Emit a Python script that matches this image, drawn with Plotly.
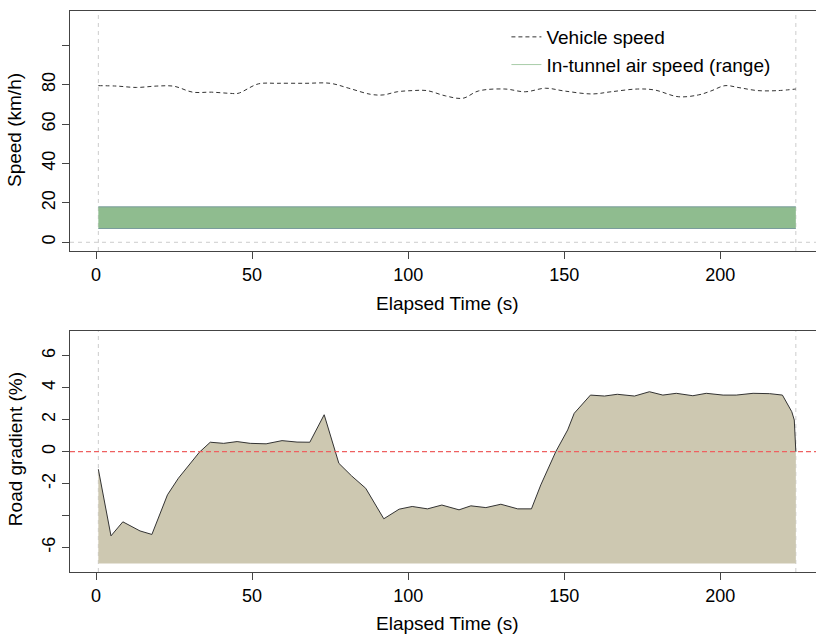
import plotly.graph_objects as go
from plotly.subplots import make_subplots

# ---- data -------------------------------------------------------------
t_start, t_end = 0.75, 224.2

speed_t = [0.75, 6.5, 13, 19.5, 25, 31, 37, 43, 45.5, 52, 58, 67, 75, 81, 88, 92,
           96.5, 101.5, 106, 112, 117.5, 122.5, 131, 137.5, 144, 150, 159, 165,
           173.5, 179, 186.5, 193, 197, 201.5, 206, 212, 218.5, 224.2]
speed_v = [79.5, 79.3, 78.6, 79.3, 79.2, 76.2, 76.2, 75.6, 75.6, 80.4, 80.7, 80.7,
           80.7, 78.2, 75.1, 74.8, 76.4, 77.0, 77.0, 74.3, 73.1, 76.8, 77.8, 76.4,
           78.2, 76.8, 75.3, 76.4, 77.8, 77.3, 73.9, 74.8, 76.8, 79.5, 78.5, 77.0,
           77.0, 77.8]

air_t = [t_start, t_end]
air_low = [7, 7]
air_high = [18, 18]

grad_t = [0.75, 4.8, 8.6, 14.1, 17.9, 20.5, 22.9, 26.4, 30.2, 33.1, 36.6, 40.9,
          45.2, 49.4, 54.5, 59.6, 64.4, 68.5, 73.1, 76.5, 77.8, 81.9, 86.4, 92.2,
          97.1, 101.3, 106.2, 110.8, 116.3, 120.1, 124.9, 129.7, 135.1, 139.5,
          142.5, 147.3, 151.1, 153.2, 158.4, 162.9, 167.0, 172.5, 177.3, 181.6,
          185.9, 191.2, 195.5, 200.9, 205.1, 210.5, 215.8, 219.9, 222.9, 223.7,
          224.2]
grad_v = [-1.1, -5.27, -4.39, -4.96, -5.18, -3.85, -2.7, -1.66, -0.73, -0.04, 0.59,
          0.52, 0.63, 0.52, 0.49, 0.69, 0.6, 0.59, 2.31, 0.0, -0.73, -1.52, -2.29,
          -4.2, -3.6, -3.43, -3.58, -3.34, -3.64, -3.39, -3.5, -3.29, -3.58, -3.58,
          -2.08, 0.0, 1.36, 2.4, 3.54, 3.48, 3.59, 3.48, 3.75, 3.54, 3.65, 3.5,
          3.65, 3.54, 3.54, 3.65, 3.63, 3.54, 2.5, 1.98, 0.0]
grad_base = -7

x_ticks = [0, 50, 100, 150, 200]
speed_ticks = [0, 20, 40, 60, 80, 100]
speed_ticktext = ["0", "20", "40", "60", "80", ""]
grad_ticks = [-6, -4, -2, 0, 2, 4, 6]
grad_ticktext = ["-6", "", "-2", "0", "2", "4", "6"]

# ---- styling ----------------------------------------------------------
FONT = "Liberation Sans, Arial, sans-serif"
AXIS_COL = "#444444"
GRID_COL = "#cccccc"

fig = make_subplots(rows=2, cols=1)

# vehicle speed
fig.add_trace(go.Scatter(x=speed_t, y=speed_v, mode="lines", name="Vehicle speed",
                         line=dict(color="#333333", width=1, dash="4px,3px",
                                   shape="spline", smoothing=1)),
              row=1, col=1)
# legend entry for the band
fig.add_trace(go.Scatter(x=[None], y=[None], mode="lines",
                         name="In-tunnel air speed (range)",
                         line=dict(color="#a8cca8", width=1)), row=1, col=1)

# air-speed band
fig.add_trace(go.Scatter(x=air_t, y=air_low, mode="lines",
                         line=dict(color="#7a9c9c", width=1),
                         showlegend=False, hoverinfo="skip"), row=1, col=1)
fig.add_trace(go.Scatter(x=air_t, y=air_high, mode="lines", fill="tonexty",
                         fillcolor="#8FBC8F",
                         line=dict(color="#7a9c9c", width=1),
                         showlegend=False, hoverinfo="skip"), row=1, col=1)

# road gradient profile
fig.add_trace(go.Scatter(x=[t_start, t_end], y=[grad_base, grad_base], mode="lines",
                         line=dict(width=0), showlegend=False, hoverinfo="skip"),
              row=2, col=1)
fig.add_trace(go.Scatter(x=grad_t, y=grad_v, mode="lines", fill="tonexty",
                         fillcolor="#CDC8B1", line=dict(color="#333333", width=1),
                         showlegend=False), row=2, col=1)

# reference lines
for xr, yr in (("x", "y"), ("x2", "y2")):
    for tv in (t_start, t_end):
        fig.add_shape(type="line", xref=xr, yref=f"{yr} domain", x0=tv, x1=tv,
                      y0=0, y1=1, layer="below",
                      line=dict(color=GRID_COL, width=1, dash="4px,4px"))
fig.add_shape(type="line", xref="x domain", yref="y", x0=0, x1=1, y0=0, y1=0,
              layer="below", line=dict(color=GRID_COL, width=1, dash="4px,4px"))
fig.add_shape(type="line", xref="x2 domain", yref="y2", x0=0, x1=1, y0=0, y1=0,
              layer="above",
              line=dict(color="rgb(238,96,96)", width=1.2, dash="5px,3px"))

xaxis_common = dict(range=[-8.33, 230.66], tickvals=x_ticks, ticks="outside",
                    ticklen=7, tickcolor=AXIS_COL, showline=True, mirror=True,
                    linecolor=AXIS_COL, linewidth=1, showgrid=False, zeroline=False,
                    tickfont=dict(size=18, color="black", family=FONT))
yaxis_common = dict(ticks="outside", ticklen=7, tickcolor=AXIS_COL, showline=True,
                    mirror=False, linecolor=AXIS_COL, linewidth=1, showgrid=False,
                    zeroline=False, tickangle=-90,
                    tickfont=dict(size=18, color="black", family=FONT))

fig.update_layout(
    width=816, height=637,
    margin=dict(l=70, r=0, t=11, b=65),
    paper_bgcolor="white", plot_bgcolor="white",
    font=dict(family=FONT, size=19, color="black"),
    xaxis=dict(domain=[0, 1], anchor="y", **xaxis_common),
    xaxis2=dict(domain=[0, 1], anchor="y2", **xaxis_common),
    yaxis=dict(domain=[0.5722, 1], anchor="x", range=[-4.42, 117.4],
               tickvals=speed_ticks, ticktext=speed_ticktext, **yaxis_common),
    yaxis2=dict(domain=[0, 0.4296], anchor="x2", range=[-7.53, 7.55],
                tickvals=grad_ticks, ticktext=grad_ticktext, **yaxis_common),
    legend=dict(x=0.585, y=0.9875, xanchor="left", yanchor="top",
                traceorder="normal",
                bgcolor="rgba(0,0,0,0)", font=dict(size=19, family=FONT),
                tracegroupgap=0),
    showlegend=True,
)

# axis titles
titles = [
    dict(text="Speed (km/h)", x=-0.0737, y=0.7879, textangle=-90),
    dict(text="Road gradient (%)", x=-0.0737, y=0.219, textangle=-90),
    dict(text="Elapsed Time (s)", x=0.5063, y=0.479, textangle=0),
    dict(text="Elapsed Time (s)", x=0.5063, y=-0.0914, textangle=0),
]
for t in titles:
    fig.add_annotation(xref="paper", yref="paper", showarrow=False,
                       xanchor="center", yanchor="middle",
                       font=dict(size=19, family=FONT, color="black"), **t)

fig.write_html("out.html")
